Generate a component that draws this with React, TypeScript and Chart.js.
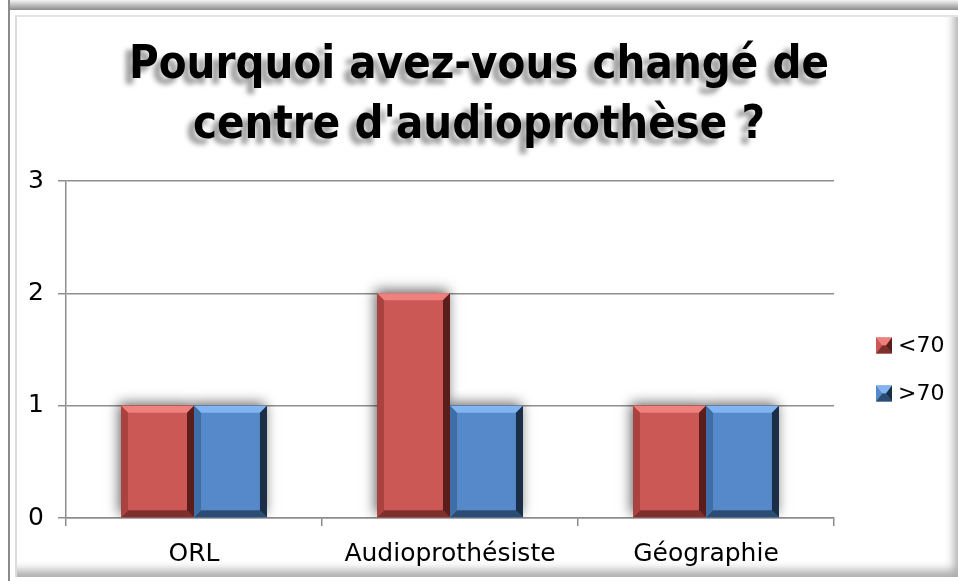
import React, { useEffect, useRef } from "react";
import { Chart, registerables } from "chart.js";

Chart.register(...registerables);

const categories = ["ORL", "Audioprothésiste", "Géographie"];
const seriesLabels = ["<70", ">70"];
const under70 = [1, 2, 1];
const over70 = [1, 1, 1];
const yMin = 0;
const yMax = 3;
const yStep = 1;
const titleLines = ["Pourquoi avez-vous changé de", "centre d'audioprothèse ?"];

const palette = [
  { face: "#CC5855", top: "#EE817E", left: "#A84340", right: "#5A1F1D", bottom: "#7E302E" },
  { face: "#5589C9", top: "#82B4F0", left: "#3F6DA6", right: "#1B2E47", bottom: "#2D4C73" },
];

const GRID = "#8e8e8e";

function drawBevelBox(ctx: CanvasRenderingContext2D, l: number, t: number, r: number, b: number, bev: number, c: any) {
  const bb = Math.min(bev, (r - l) / 2, (b - t) / 2);
  ctx.fillStyle = c.face;
  ctx.fillRect(l, t, r - l, b - t);
  const poly = (pts: number[][], col: string) => {
    ctx.beginPath();
    ctx.moveTo(pts[0][0], pts[0][1]);
    for (let i = 1; i < pts.length; i++) ctx.lineTo(pts[i][0], pts[i][1]);
    ctx.closePath();
    ctx.fillStyle = col;
    ctx.fill();
  };
  poly([[l, t], [r, t], [r - bb, t + bb], [l + bb, t + bb]], c.top);
  poly([[l, b], [r, b], [r - bb, b - bb], [l + bb, b - bb]], c.bottom);
  poly([[l, t], [l + bb, t + bb], [l + bb, b - bb], [l, b]], c.left);
  poly([[r, t], [r - bb, t + bb], [r - bb, b - bb], [r, b]], c.right);
}

const customPlugin = {
  id: "custom",
  beforeDraw(chart: any) {
    const ctx = chart.ctx as CanvasRenderingContext2D;
    ctx.save();
    ctx.font = "bold 46px 'DejaVu Sans'";
    const w = ctx.measureText(titleLines[0]).width;
    const sx = 700 / w;
    const cx = chart.width / 2;
    const baselines = [78, 138];
    titleLines.forEach((line, i) => {
      ctx.save();
      ctx.translate(cx, baselines[i]);
      ctx.scale(sx, 1);
      ctx.textAlign = "center";
      ctx.textBaseline = "alphabetic";
      ctx.shadowColor = "rgba(0,0,0,0.38)";
      ctx.shadowBlur = 5;
      ctx.shadowOffsetX = -7;
      ctx.shadowOffsetY = 6;
      ctx.fillStyle = "#000";
      ctx.fillText(line, 0, 0);
      ctx.restore();
    });
    ctx.restore();
  },
  beforeDatasetDraw(chart: any) {
    const ctx = chart.ctx as CanvasRenderingContext2D;
    ctx.save();
    ctx.shadowColor = "rgba(0,0,0,0.6)";
    ctx.shadowBlur = 12;
    ctx.shadowOffsetX = -2;
    ctx.shadowOffsetY = -3;
  },
  afterDatasetDraw(chart: any) {
    chart.ctx.restore();
  },
  afterDatasetsDraw(chart: any) {
    const ctx = chart.ctx as CanvasRenderingContext2D;
    ctx.save();
    chart.data.datasets.forEach((ds: any, di: number) => {
      const meta = chart.getDatasetMeta(di);
      meta.data.forEach((el: any) => {
        const p = el.getProps(["x", "y", "base", "width"], true);
        const l = p.x - p.width / 2;
        const r = p.x + p.width / 2;
        const t = Math.min(p.y, p.base);
        const b = Math.max(p.y, p.base);
        drawBevelBox(ctx, l, t, r, b, 7, palette[di]);
      });
    });
    ctx.restore();
  },
  afterDraw(chart: any) {
    const ctx = chart.ctx as CanvasRenderingContext2D;
    const area = chart.chartArea;
    const x0 = area.right + 42;
    const spacing = 48;
    const n = chart.data.datasets.length;
    const mid = (area.top + area.bottom) / 2 + 20;
    ctx.save();
    ctx.font = "22px 'DejaVu Sans'";
    ctx.textBaseline = "middle";
    ctx.textAlign = "left";
    chart.data.datasets.forEach((ds: any, i: number) => {
      const cy = mid + (i - (n - 1) / 2) * spacing;
      const s = 16;
      const l = x0, t = cy - s / 2, r = x0 + s, b = cy + s / 2;
      const c = palette[i];
      ctx.fillStyle = c.face;
      ctx.fillRect(l, t, s, s);
      const tri = (pts: number[][], col: string) => {
        ctx.beginPath();
        ctx.moveTo(pts[0][0], pts[0][1]);
        pts.slice(1).forEach((q) => ctx.lineTo(q[0], q[1]));
        ctx.closePath();
        ctx.fillStyle = col;
        ctx.fill();
      };
      const mx = (l + r) / 2, my = (t + b) / 2;
      tri([[l, t], [r, t], [mx + 2, my], [mx - 2, my]], c.top);
      tri([[l, b], [r, b], [mx + 2, my], [mx - 2, my]], c.bottom);
      tri([[l, t], [mx - 2, my], [l, b]], c.face);
      tri([[r, t], [mx + 2, my], [r, b]], c.right);
      ctx.fillStyle = "#000";
      ctx.fillText(ds.label, r + 6, cy + 1);
    });
    ctx.restore();
  },
};

export default function App() {
  const ref = useRef<HTMLCanvasElement | null>(null);
  useEffect(() => {
    if (!ref.current) return;
    const chart = new Chart(ref.current, {
      type: "bar",
      data: {
        labels: categories,
        datasets: [
          { label: seriesLabels[0], data: under70, backgroundColor: palette[0].face },
          { label: seriesLabels[1], data: over70, backgroundColor: palette[1].face },
        ],
      },
      options: {
        animation: false,
        responsive: false,
        devicePixelRatio: 1,
        layout: { padding: { top: 181, right: 124, left: 0, bottom: 0 } },
        datasets: { bar: { categoryPercentage: 0.57, barPercentage: 1.0, borderWidth: 0 } },
        plugins: {
          legend: { display: false },
          title: { display: false },
          tooltip: { enabled: false },
        },
        scales: {
          x: {
            offset: true,
            grid: { display: true, drawOnChartArea: false, drawTicks: true, tickLength: 8, color: GRID, lineWidth: 1.5, offset: true },
            border: { display: true, color: GRID, width: 1.5 },
            ticks: { color: "#000", font: { family: "'DejaVu Sans'", size: 25 }, padding: 13 },
            afterFit: (s: any) => { s.height = 63; },
          },
          y: {
            min: yMin,
            max: yMax,
            ticks: { stepSize: yStep, color: "#000", font: { family: "'DejaVu Sans'", size: 25 }, padding: 14 },
            grid: { color: GRID, lineWidth: 1.5, tickLength: 8 },
            border: { display: true, color: GRID, width: 1.5 },
            afterFit: (s: any) => { s.width = 66; },
          },
        },
      },
      plugins: [customPlugin],
    });
    return () => chart.destroy();
  }, []);

  return (
    <div style={{ position: "fixed", left: 0, top: 0, width: 958, height: 581, background: "#fff", overflow: "hidden" }}>
      <div style={{ position: "absolute", left: 8, top: 0, width: 2, height: 581, background: "#8a8a8a" }} />
      <div style={{ position: "absolute", left: 10, top: 0, width: 948, height: 10, background: "linear-gradient(to bottom, #f4f4f4, #8c8c8c)" }} />
      <div
        style={{
          position: "absolute",
          left: 15,
          top: 15,
          width: 943,
          height: 562,
          boxSizing: "border-box",
          borderLeft: "2px solid #dcdcdc",
          borderTop: "2px solid #e4e4e4",
          boxShadow: "inset -9px -12px 10px -5px rgba(0,0,0,0.32)",
        }}
      />
      <canvas ref={ref} width={958} height={581} style={{ position: "absolute", left: 0, top: 0, width: 958, height: 581 }} />
    </div>
  );
}
